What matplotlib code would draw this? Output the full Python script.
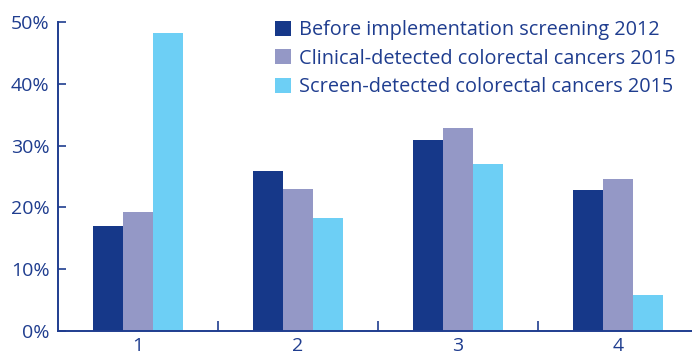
import matplotlib.pyplot as plt
import numpy as np

# data
groups = ['1', '2', '3', '4']
before_2012 = [17.0, 25.9, 30.9, 22.8]
clinical_2015 = [19.2, 23.0, 32.8, 24.6]
screen_2015 = [48.2, 18.3, 27.0, 5.8]
series_names = ['Before implementation screening 2012',
                'Clinical-detected colorectal cancers 2015',
                'Screen-detected colorectal cancers 2015']
yticks = [0, 10, 20, 30, 40, 50]

colors = ['#163889', '#9498c6', '#6dcff5']
navy = '#1f3d8f'

plt.rcParams['font.family'] = ['Open Sans', 'DejaVu Sans']

fig = plt.figure(figsize=(6.92, 3.56), dpi=100)
ax = fig.add_axes([58 / 692, 25 / 356, 634 / 692, 309 / 356])

x = np.arange(1, len(groups) + 1)
w = 0.1875
for i, (vals, c, name) in enumerate(zip([before_2012, clinical_2015, screen_2015], colors, series_names)):
    ax.bar(x + (i - 1) * w, vals, width=w, color=c, label=name, linewidth=0)

ax.set_xlim(0.5, 0.5 + 634 / 160)
ax.set_ylim(0, 50)
ax.set_yticks(yticks)
ax.set_yticklabels([f'{t}%' for t in yticks])
ax.set_xticks(x)
ax.set_xticklabels(groups)
ax.set_xticks(x[:-1] + 0.5, minor=True)

for s in ['top', 'right']:
    ax.spines[s].set_visible(False)
for s in ['left', 'bottom']:
    ax.spines[s].set_color(navy)
    ax.spines[s].set_linewidth(1.4)

ax.tick_params(axis='y', direction='in', length=6, width=1.2, color=navy,
               labelcolor=navy, labelsize=14, pad=6)
ax.tick_params(axis='x', which='major', length=0, labelcolor=navy, labelsize=14, pad=4)
ax.tick_params(axis='x', which='minor', direction='in', length=7, width=1.2, color=navy)

leg = ax.legend(loc='upper left', bbox_to_anchor=(275 / 692, 1 - 20 / 356),
                bbox_transform=fig.transFigure, frameon=False, fontsize=14.3,
                handlelength=0.8, handleheight=0.8, handletextpad=0.4,
                labelspacing=0.44, borderaxespad=0, borderpad=0)
for t in leg.get_texts():
    t.set_color(navy)

fig.savefig('out.png', dpi=100)
